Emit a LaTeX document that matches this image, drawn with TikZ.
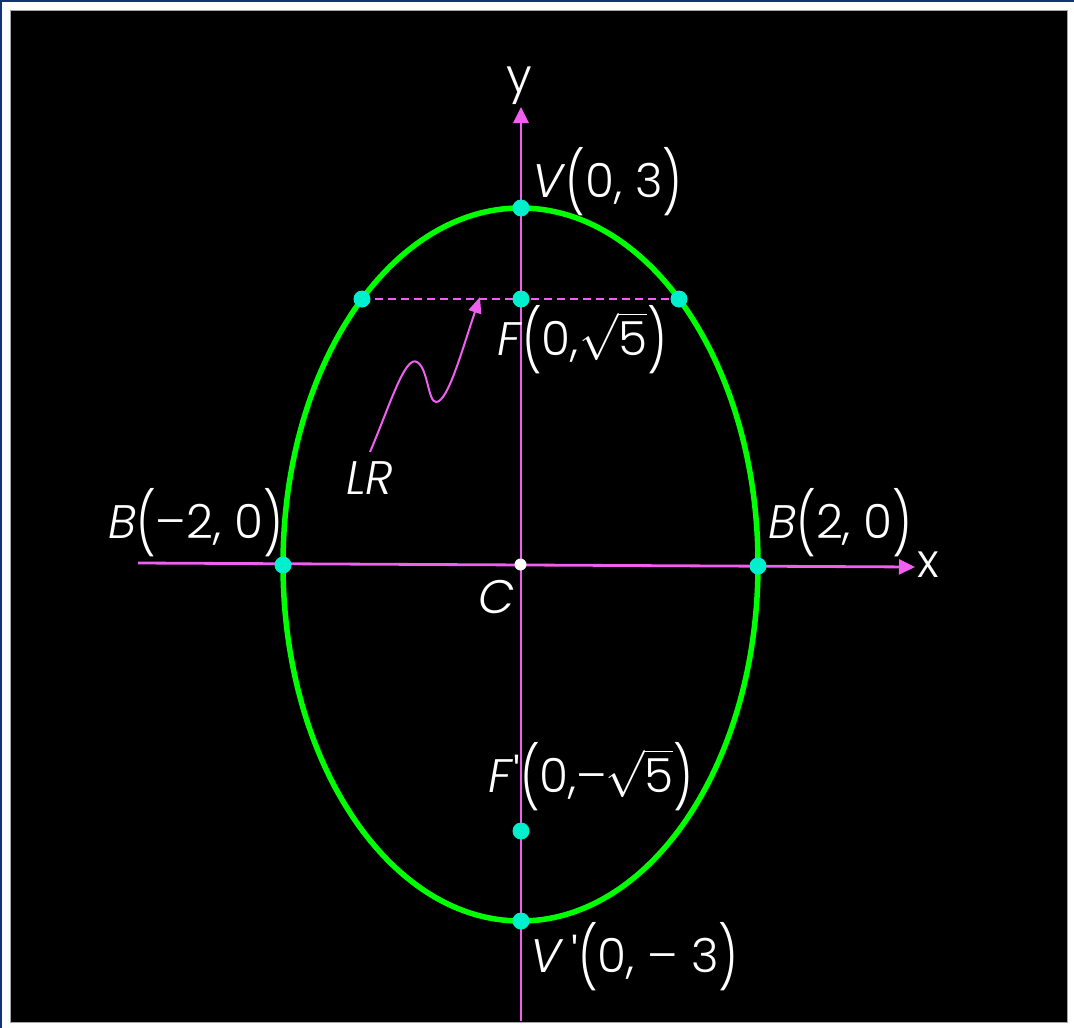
\RequirePackage{fix-cm}
\documentclass[tikz,border=0pt]{standalone}
\usepackage{fontspec}
\setmainfont{Poppins}[UprightFont=*-Light,ItalicFont=*-LightItalic]
\usepackage{graphicx}
\usetikzlibrary{arrows.meta}
\definecolor{navyc}{RGB}{20,50,120}
\definecolor{dotc}{RGB}{0,240,205}
\definecolor{axc}{RGB}{240,95,240}
\definecolor{ellc}{RGB}{0,255,0}
\newcommand\PL{\raisebox{-0.16em}{\scalebox{1}[1.3]{(}}}
\newcommand\PR{\raisebox{-0.16em}{\scalebox{1}[1.3]{)}}}
\newcommand\rtf{$\sqrt{\mbox{5}}$}
\begin{document}
\begin{tikzpicture}[x=1pt,y=-1pt,
  lab/.style={text=white,inner sep=0pt,font=\fontsize{47}{50}\selectfont},
  dotn/.style={circle,fill=dotc,minimum size=17pt,inner sep=0pt},
  wdot/.style={circle,fill=white,minimum size=12pt,inner sep=0pt},
  axis/.style={draw=axc,line width=2.8pt,-{Triangle[length=16pt,width=15pt]}},
  lrline/.style={draw=axc,line width=2pt,dash pattern=on 8pt off 5pt},
  ell/.style={draw=ellc,line width=5.5pt}]
\useasboundingbox (0,0) rectangle (1074,1028);
\fill[white] (0,0) rectangle (1074,1028);
\fill[navyc] (0,0) rectangle (1074,2);
\fill[navyc] (0,0) rectangle (2,1028);
\fill[black,draw=gray!70,line width=0.8pt] (10,10) rectangle (1067,1022);
% axes
\coordinate (xl) at (138,563);
\coordinate (xr) at (915,567);
\coordinate (yb) at (521,1021);
\coordinate (yt) at (521,107);
\draw[axis] (xl) -- (xr);
\draw[axis] (yb) -- (yt);
\node[lab,anchor=base west] (xlab) at (917,577) {x};
\node[lab,anchor=center] (ylab) at (519,86) {y};
% ellipse
\coordinate (C) at (520.5,564.5);
\draw[ell] (C) ellipse [x radius=237.5pt, y radius=356.5pt];
% latus rectum
\coordinate (L1) at (362,299);
\coordinate (L2) at (679,299);
\draw[lrline] (L1) -- (L2);
% points
\node[dotn] (V) at (521,208) {};
\node[dotn] (F) at (521,299) {};
\node[dotn] (Fp) at (521,831) {};
\node[dotn] (Vp) at (521,921) {};
\node[dotn] (Bl) at (283,565) {};
\node[dotn] (Br) at (758,566) {};
\node[dotn] (P1) at (L1) {};
\node[dotn] (P2) at (L2) {};
\node[wdot] (Cd) at (C) {};
% labels
\node[lab,anchor=base west] (lV) at (532,197) {\textit{V}\PL 0, 3\PR};
\node[lab,anchor=base west] (lF) at (497,355) {\textit{F}\PL 0,\rtf\PR};
\node[lab,anchor=base west] (lBl) at (108,538) {\textit{B}\PL\textendash 2, 0\PR};
\node[lab,anchor=base west] (lBr) at (768,538) {\textit{B}\PL 2, 0\PR};
\node[lab,anchor=base west] (lC) at (478,613) {\textit{C}};
\node[lab,anchor=base west] (lLR) at (346,494) {\textit{LR}};
\node[lab,anchor=base west] (lFp) at (488,792) {\textit{F}\textquotesingle\PL 0,\textendash\kern-0.05em\rtf\PR};
\node[lab,anchor=base west] (lVp) at (530,972) {\textit{V}\,\textquotesingle\PL 0, \textendash\ 3\PR};
% LR arrow
\coordinate (LRtip) at (480,297);
\draw[draw=axc,line width=2pt,-{Triangle[length=16pt,width=13pt]}]
  (370,452) .. controls (390,405) and (405,355) .. (417,362)
  .. controls (428,368) and (428,402) .. (436,402)
  .. controls (448,402) and (462,350) .. (LRtip);
\end{tikzpicture}
\end{document}
